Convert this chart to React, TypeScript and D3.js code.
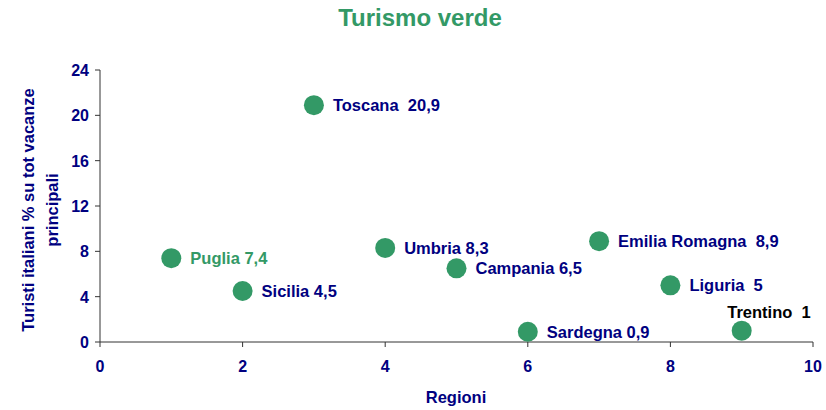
import React from "react";
import * as d3 from "d3";

const regions = ["Puglia", "Sicilia", "Toscana", "Umbria", "Campania", "Sardegna", "Emilia Romagna", "Liguria", "Trentino"];
const xValues = [1, 2, 3, 4, 5, 6, 7, 8, 9];
const yValues = [7.4, 4.5, 20.9, 8.3, 6.5, 0.9, 8.9, 5, 1];
const labels = ["Puglia 7,4", "Sicilia 4,5", "Toscana  20,9", "Umbria 8,3", "Campania 6,5", "Sardegna 0,9", "Emilia Romagna  8,9", "Liguria  5", "Trentino  1"];
const xTicks = [0, 2, 4, 6, 8, 10];
const yTicks = [0, 4, 8, 12, 16, 20, 24];

const GREEN = "#339966";
const NAVY = "#000080";
const FONT = "'Liberation Sans', Arial, sans-serif";

export default function App() {
  const W = 826, H = 410;
  const x = d3.scaleLinear().domain([0, 10]).range([100, 813]);
  const y = d3.scaleLinear().domain([0, 24]).range([342, 70]);
  return (
    <svg width={W} height={H} style={{ position: "absolute", left: 0, top: 0 }} fontFamily={FONT}>
      <rect width={W} height={H} fill="#fff" />
      <text x={420} y={26} textAnchor="middle" fontSize={24} fontWeight="bold" fill={GREEN}>Turismo verde</text>
      <line x1={x(0)} x2={x(10)} y1={y(0)} y2={y(0)} stroke="#333" strokeWidth={1} />
      <line x1={x(0)} x2={x(0)} y1={y(0)} y2={y(24)} stroke="#333" strokeWidth={1} />
      {xTicks.map((t) => (
        <g key={"x" + t}>
          <line x1={x(t)} x2={x(t)} y1={y(0)} y2={y(0) + 5} stroke="#333" />
          <text x={x(t)} y={372} textAnchor="middle" fontSize={16} fontWeight="bold" fill={NAVY}>{t}</text>
        </g>
      ))}
      {yTicks.map((t) => (
        <g key={"y" + t}>
          <line x1={x(0) - 5} x2={x(0)} y1={y(t)} y2={y(t)} stroke="#333" />
          <text x={89} y={y(t) + 6} textAnchor="end" fontSize={16} fontWeight="bold" fill={NAVY}>{t}</text>
        </g>
      ))}
      <text x={456} y={403} textAnchor="middle" fontSize={16.5} fontWeight="bold" fill={NAVY}>Regioni</text>
      <g transform="translate(0,210) rotate(-90)">
        <text x={0} y={34} textAnchor="middle" fontSize={16.5} fontWeight="bold" fill={NAVY}>Turisti italiani % su tot vacanze</text>
        <text x={0} y={58} textAnchor="middle" fontSize={16.5} fontWeight="bold" fill={NAVY}>principali</text>
      </g>
      {regions.map((r, i) => {
        const cx = x(xValues[i]);
        const cy = y(yValues[i]);
        const isTrentino = r === "Trentino";
        const isPuglia = r === "Puglia";
        return (
          <g key={r}>
            <circle cx={cx} cy={cy} r={10} fill={GREEN} />
            <text
              x={isTrentino ? cx + 69 : cx + 19}
              y={isTrentino ? cy - 13 : cy + 6}
              textAnchor={isTrentino ? "end" : "start"}
              fontSize={16.5}
              fontWeight="bold"
              fill={isTrentino ? "#000" : isPuglia ? GREEN : NAVY}
              style={{ whiteSpace: "pre" }}
            >{labels[i]}</text>
          </g>
        );
      })}
    </svg>
  );
}
